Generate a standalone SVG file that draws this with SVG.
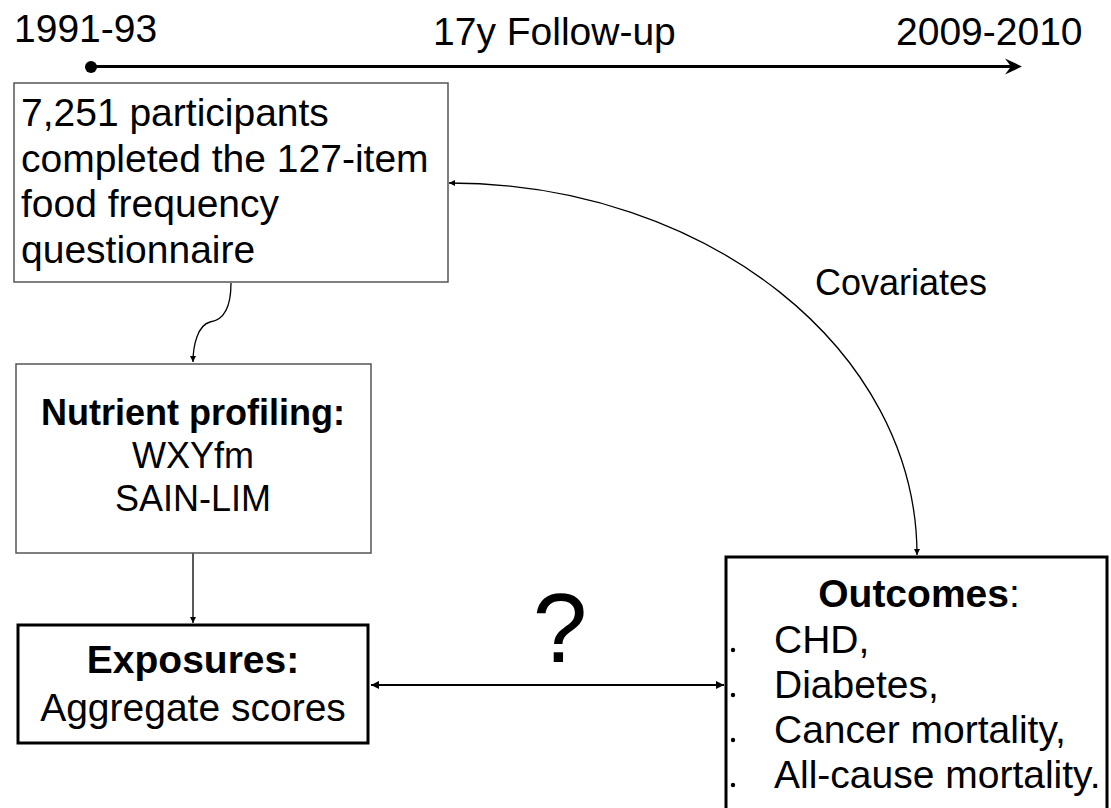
<svg xmlns="http://www.w3.org/2000/svg" width="1111" height="808" viewBox="0 0 1111 808">
<style>
text{font-family:"Liberation Sans",Arial,sans-serif;fill:#000}
.t39{font-size:39px}
.t36{font-size:36px}
.b{font-weight:bold}
.thin{fill:#fff;stroke:#555;stroke-width:1.5}
.thick{fill:#fff;stroke:#000;stroke-width:3}
.con{fill:none;stroke:#000;stroke-width:1.3}
</style>
<defs>
<marker id="ah" viewBox="0 0 10 10" refX="10" refY="5" markerWidth="6" markerHeight="6" markerUnits="userSpaceOnUse" orient="auto-start-reverse">
<path d="M0,0 L10,5 L0,10 z" fill="#000"/>
</marker>
<marker id="ah2" viewBox="0 0 10 10" refX="10" refY="5" markerWidth="10" markerHeight="8" markerUnits="userSpaceOnUse" orient="auto-start-reverse">
<path d="M0,0 L10,5 L0,10 z" fill="#000"/>
</marker>
</defs>
<rect width="1111" height="808" fill="#fff"/>
<g id="timeline">
<text class="t39" x="14" y="42">1991-93</text>
<text class="t39" x="433" y="45">17y Follow-up</text>
<text class="t39" x="896" y="45">2009-2010</text>
<circle cx="91" cy="67" r="6" fill="#000"/>
<line x1="91" y1="66.5" x2="1016" y2="66.5" stroke="#000" stroke-width="3"/>
<path d="M1022,66.5 L1005,58.5 L1011,66.5 L1005,74.5 z" fill="#000"/>
</g>
<g id="connectors">
<path class="con" d="M231,283 C231,305 225,320 210,322 C198,325 193,345 193,362" marker-end="url(#ah)"/>
<line class="con" x1="193" y1="553" x2="193" y2="623" marker-end="url(#ah)"/>
<path class="con" d="M917,555 C917,350 707,183 449,183" marker-start="url(#ah)" marker-end="url(#ah)"/>
<line x1="371" y1="685" x2="724" y2="685" stroke="#000" stroke-width="2" marker-start="url(#ah2)" marker-end="url(#ah2)"/>
</g>
<g id="ffq">
<rect class="thin" x="14" y="83" width="434" height="199"/>
<text class="t39" x="21" y="126">7,251 participants</text>
<text class="t39" x="21" y="171.5">completed the 127-item</text>
<text class="t39" x="21" y="217">food frequency</text>
<text class="t39" x="21" y="262.5">questionnaire</text>
</g>
<g id="profiling">
<rect class="thin" x="16" y="364" width="355" height="189"/>
<text class="t36 b" x="193" y="425" text-anchor="middle">Nutrient profiling:</text>
<text class="t36" x="193" y="468" text-anchor="middle">WXYfm</text>
<text class="t36" x="193" y="511" text-anchor="middle">SAIN-LIM</text>
</g>
<g id="exposures">
<rect class="thick" x="18" y="625" width="350" height="118"/>
<text class="t39 b" x="193" y="673" text-anchor="middle">Exposures:</text>
<text class="t39" x="193" y="721" text-anchor="middle">Aggregate scores</text>
</g>
<g id="outcomes">
<rect class="thick" x="726" y="557" width="381" height="270"/>
<text class="t39" x="919" y="607" text-anchor="middle"><tspan class="b">Outcomes</tspan>:</text>
<circle cx="733" cy="650" r="2.2" fill="#000"/>
<circle cx="733" cy="695" r="2.2" fill="#000"/>
<circle cx="733" cy="740" r="2.2" fill="#000"/>
<circle cx="733" cy="785" r="2.2" fill="#000"/>
<text class="t39" x="774" y="653">CHD,</text>
<text class="t39" x="774" y="698">Diabetes,</text>
<text class="t39" x="774" y="743">Cancer mortality,</text>
<text class="t39" x="774" y="788">All-cause mortality.</text>
</g>
<g id="labels">
<text class="t36" x="815" y="295">Covariates</text>
<text x="560" y="662" text-anchor="middle" style="font-size:98px">?</text>
</g>
</svg>
